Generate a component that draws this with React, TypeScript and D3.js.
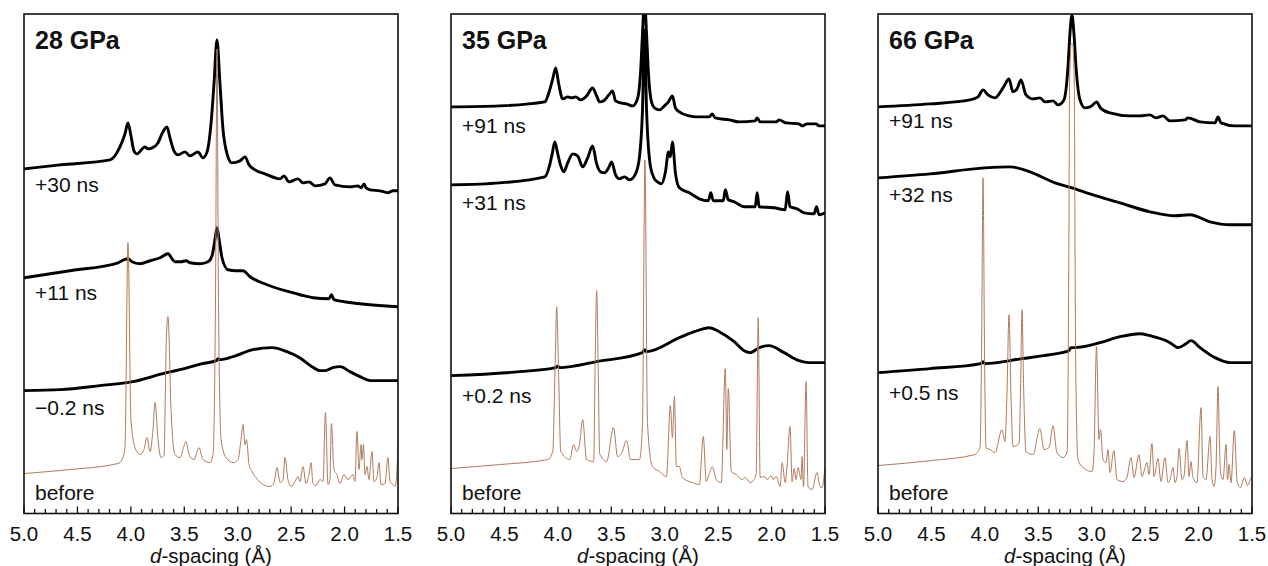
import React from "react";
import * as d3 from "d3";

type Pt = [number, number];

// ---------- tick values ----------
const MAJOR_TICKS = [5.0, 4.5, 4.0, 3.5, 3.0, 2.5, 2.0, 1.5];
const MINOR_TICKS = d3.range(0, 36).map((i) => +(5.0 - i * 0.1).toFixed(1));
const PANEL_TITLES = ["28 GPa", "35 GPa", "66 GPa"];

// ---------- 28 GPa ----------
const P1_BEFORE: Pt[] = [
  [5.0, 40], [4.57, 44], [4.12, 50], [4.083, 54], [4.055, 66], [4.027, 271], [3.999, 94], [3.961, 66],
  [3.914, 59], [3.877, 64], [3.849, 76], [3.82, 62], [3.793, 84], [3.774, 111], [3.746, 74], [3.718, 56],
  [3.69, 58], [3.667, 178], [3.652, 197], [3.624, 104], [3.587, 59], [3.54, 56], [3.512, 64], [3.484, 72],
  [3.456, 59], [3.409, 54], [3.362, 66], [3.325, 54], [3.259, 51], [3.231, 59], [3.208, 214], [3.194, 465],
  [3.18, 214], [3.156, 74], [3.11, 56], [3.044, 51], [2.997, 54], [2.969, 74], [2.95, 89], [2.932, 69],
  [2.918, 74], [2.894, 49], [2.866, 42], [2.829, 36], [2.764, 29], [2.698, 27], [2.66, 31], [2.632, 46],
  [2.604, 31], [2.576, 34], [2.558, 56], [2.53, 34], [2.501, 27], [2.464, 32], [2.436, 37], [2.417, 32],
  [2.389, 47], [2.361, 30], [2.333, 39], [2.314, 51], [2.296, 30], [2.268, 28], [2.23, 34], [2.202, 32],
  [2.179, 101], [2.155, 29], [2.137, 34], [2.123, 90], [2.099, 44], [2.071, 39], [2.043, 30], [2.005, 39],
  [1.968, 34], [1.921, 39], [1.903, 32], [1.884, 82], [1.865, 44], [1.846, 69], [1.837, 54], [1.823, 69],
  [1.809, 39], [1.79, 47], [1.772, 34], [1.743, 62], [1.725, 32], [1.697, 36], [1.678, 51], [1.659, 29],
  [1.622, 30], [1.594, 56], [1.575, 32], [1.547, 29], [1.528, 27], [1.509, 44], [1.5, 72],
];
const P1_M02: Pt[] = [
  [5.0, 123], [4.66, 124], [4.29, 128], [3.98, 132], [3.7, 140], [3.54, 144], [3.33, 150], [3.2, 153],
  [3.185, 155], [3.17, 154], [3.044, 157], [2.857, 164], [2.68, 166], [2.54, 162], [2.42, 156], [2.305, 147],
  [2.23, 143], [2.18, 143], [2.11, 146], [2.04, 147], [1.95, 142], [1.856, 137], [1.76, 133], [1.5, 133],
];
const P1_11: Pt[] = [
  [5.0, 236], [4.57, 243], [4.12, 251], [4.064, 254], [4.027, 255], [3.99, 252], [3.914, 250], [3.82, 253],
  [3.727, 256], [3.652, 260], [3.615, 255], [3.587, 252], [3.53, 252], [3.484, 253], [3.447, 251], [3.353, 250],
  [3.278, 252], [3.24, 258], [3.212, 275], [3.194, 286], [3.175, 275], [3.147, 256], [3.091, 244], [3.016, 243],
  [2.95, 243], [2.885, 237], [2.726, 229], [2.558, 223], [2.417, 219], [2.296, 216], [2.146, 215], [2.123, 219],
  [2.099, 214], [1.856, 210], [1.5, 207],
];
const P1_30: Pt[] = [
  [5.0, 345], [4.663, 349], [4.195, 354], [4.102, 367], [4.055, 380], [4.027, 391], [3.999, 378], [3.971, 363],
  [3.943, 360], [3.868, 367], [3.84, 365], [3.802, 366], [3.746, 371], [3.709, 380], [3.662, 387], [3.634, 376],
  [3.597, 363], [3.559, 359], [3.493, 362], [3.447, 358], [3.372, 362], [3.325, 356], [3.287, 362], [3.25, 390],
  [3.222, 430], [3.194, 474], [3.166, 430], [3.138, 385], [3.1, 360], [3.054, 351], [2.979, 353], [2.932, 357],
  [2.894, 349], [2.838, 344], [2.745, 340], [2.604, 335], [2.567, 338], [2.52, 332], [2.436, 335], [2.389, 331],
  [2.333, 332], [2.277, 328], [2.183, 330], [2.137, 336], [2.09, 329], [1.949, 327], [1.875, 328], [1.846, 326],
  [1.818, 330], [1.799, 326], [1.762, 324], [1.669, 323], [1.594, 321], [1.547, 323], [1.5, 323],
];

// ---------- 35 GPa ----------
const P2_BEFORE: Pt[] = [
  [5.0, 45], [4.543, 49], [4.095, 54], [4.048, 62], [4.025, 150], [4.011, 207], [3.995, 150], [3.973, 62],
  [3.889, 54], [3.852, 69], [3.824, 62], [3.796, 70], [3.768, 94], [3.731, 54], [3.665, 52], [3.651, 150],
  [3.637, 223], [3.623, 150], [3.609, 60], [3.544, 52], [3.479, 86], [3.441, 57], [3.404, 60], [3.357, 73],
  [3.32, 54], [3.236, 54], [3.208, 90], [3.185, 354], [3.161, 90], [3.115, 47], [3.049, 42], [2.984, 37],
  [2.947, 108], [2.928, 76], [2.909, 117], [2.891, 47], [2.863, 47], [2.835, 36], [2.741, 31], [2.676, 29],
  [2.639, 77], [2.611, 32], [2.583, 40], [2.555, 47], [2.517, 34], [2.471, 31], [2.433, 145], [2.419, 64],
  [2.405, 125], [2.377, 42], [2.331, 39], [2.275, 34], [2.247, 36], [2.2, 31], [2.163, 34], [2.144, 40],
  [2.125, 196], [2.107, 36], [2.069, 37], [2.041, 34], [2.004, 38], [1.985, 34], [1.957, 37], [1.92, 27],
  [1.901, 51], [1.873, 31], [1.855, 48], [1.827, 87], [1.808, 32], [1.789, 45], [1.771, 34], [1.752, 46],
  [1.724, 34], [1.715, 57], [1.701, 27], [1.677, 132], [1.659, 27], [1.621, 24], [1.575, 41], [1.547, 27],
  [1.528, 26], [1.5, 47],
];
const P2_02: Pt[] = [
  [5.0, 138], [4.356, 142], [4.02, 146], [4.001, 147.5], [3.983, 146], [3.637, 152], [3.208, 161], [3.189, 164],
  [3.17, 162], [2.863, 176], [2.723, 182], [2.583, 186], [2.49, 182], [2.35, 172], [2.256, 163], [2.2, 161],
  [2.116, 166], [2.023, 168], [1.883, 161], [1.743, 153], [1.649, 151], [1.5, 151],
];
const P2_31: Pt[] = [
  [5.0, 329], [4.543, 331], [4.123, 337], [4.076, 349], [4.053, 360], [4.029, 372], [4.001, 360], [3.973, 348],
  [3.945, 342], [3.908, 351], [3.861, 360], [3.815, 358], [3.768, 347], [3.721, 356], [3.675, 368], [3.637, 350],
  [3.6, 342], [3.563, 341], [3.525, 346], [3.497, 352], [3.46, 339], [3.423, 335], [3.376, 337], [3.329, 334],
  [3.273, 340], [3.236, 357], [3.208, 404], [3.189, 484], [3.17, 404], [3.133, 347], [3.096, 335], [3.068, 332],
  [3.031, 330], [2.993, 342], [2.965, 362], [2.947, 357], [2.928, 372], [2.9, 341], [2.863, 326], [2.77, 321],
  [2.676, 315], [2.592, 313], [2.569, 321], [2.545, 313], [2.452, 313], [2.433, 324], [2.405, 314], [2.349, 312],
  [2.256, 307], [2.153, 307], [2.135, 321], [2.116, 307], [1.976, 306], [1.873, 304], [1.85, 322], [1.827, 307],
  [1.761, 305], [1.696, 301], [1.603, 300], [1.579, 307], [1.556, 299], [1.5, 301],
];
const P2_91: Pt[] = [
  [5.0, 407], [4.543, 408], [4.123, 412], [4.076, 424], [4.048, 435], [4.02, 446], [3.992, 430], [3.955, 415],
  [3.908, 417], [3.871, 416], [3.833, 417], [3.787, 414], [3.731, 418], [3.675, 426], [3.637, 418], [3.609, 412],
  [3.572, 413], [3.516, 420], [3.488, 423], [3.46, 413], [3.413, 411], [3.357, 410], [3.301, 408], [3.255, 415],
  [3.227, 440], [3.208, 480], [3.189, 515], [3.17, 480], [3.152, 440], [3.124, 412], [3.096, 406], [3.049, 404],
  [3.003, 408], [2.965, 412], [2.928, 418], [2.9, 406], [2.863, 402], [2.77, 398], [2.704, 397], [2.583, 397],
  [2.555, 400], [2.527, 396], [2.396, 394], [2.303, 392], [2.153, 393], [2.135, 396], [2.107, 392], [1.957, 392],
  [1.93, 394], [1.864, 391], [1.743, 390], [1.715, 388], [1.668, 390], [1.584, 390], [1.556, 388], [1.5, 388],
];

// ---------- 66 GPa ----------
const P3_BEFORE: Pt[] = [
  [5.0, 48], [4.5, 53], [4.092, 59], [4.045, 66], [4.031, 160], [4.017, 336], [4.003, 160], [3.989, 66],
  [3.952, 64], [3.905, 61], [3.84, 84], [3.812, 72], [3.793, 120], [3.774, 199], [3.756, 120], [3.737, 67],
  [3.68, 70], [3.665, 130], [3.652, 204], [3.638, 130], [3.615, 62], [3.55, 59], [3.484, 85], [3.447, 64],
  [3.4, 66], [3.362, 88], [3.326, 61], [3.269, 56], [3.231, 61], [3.22, 150], [3.213, 290], [3.207, 430],
  [3.192, 470], [3.178, 470], [3.163, 430], [3.157, 290], [3.15, 150], [3.128, 54], [3.082, 46], [2.997, 42],
  [2.979, 60], [2.955, 167], [2.932, 74], [2.918, 84], [2.894, 54],
  [2.866, 51], [2.848, 64], [2.829, 41], [2.792, 63], [2.764, 34], [2.707, 32], [2.671, 36], [2.632, 56],
  [2.604, 36], [2.558, 59], [2.53, 37], [2.501, 46], [2.483, 51], [2.464, 39], [2.436, 70], [2.417, 37],
  [2.38, 55], [2.352, 32], [2.314, 56], [2.286, 31], [2.267, 34], [2.239, 46], [2.221, 31], [2.202, 37],
  [2.183, 65], [2.155, 34], [2.137, 37], [2.108, 73], [2.089, 37], [2.071, 52], [2.052, 36], [2.015, 31],
  [1.977, 106], [1.958, 37], [1.93, 34], [1.893, 77], [1.874, 34], [1.855, 27], [1.837, 46], [1.818, 127],
  [1.804, 67], [1.79, 37], [1.771, 34], [1.743, 69], [1.729, 34], [1.715, 49], [1.696, 31], [1.666, 83],
  [1.638, 31], [1.608, 26], [1.571, 36], [1.543, 28], [1.515, 34], [1.5, 37],
];
const P3_05: Pt[] = [
  [5.0, 141], [4.513, 145], [4.036, 150], [4.017, 152], [3.999, 150], [3.652, 155], [3.39, 159], [3.213, 163],
  [3.194, 166], [3.166, 166], [2.922, 171], [2.735, 177], [2.548, 180], [2.455, 178], [2.267, 171], [2.192, 166],
  [2.117, 170], [2.071, 173], [1.986, 166], [1.846, 156], [1.706, 151], [1.5, 151],
];
const P3_32: Pt[] = [
  [5.0, 336], [4.513, 340], [3.999, 346], [3.765, 347], [3.578, 342], [3.344, 331], [3.185, 326], [3.016, 320],
  [2.735, 311], [2.455, 302], [2.221, 298], [2.08, 299], [1.893, 292], [1.706, 289], [1.5, 289],
];
const P3_91: Pt[] = [
  [5.0, 407], [4.513, 410], [4.139, 414], [4.064, 417], [4.017, 424], [3.971, 419], [3.905, 416], [3.83, 426],
  [3.774, 435], [3.737, 422], [3.699, 425], [3.662, 434], [3.615, 419], [3.55, 415], [3.484, 416], [3.437, 412],
  [3.362, 413], [3.316, 409], [3.26, 414], [3.222, 447], [3.204, 480], [3.185, 499], [3.166, 480], [3.147, 447],
  [3.11, 414], [3.063, 406], [3.016, 407], [2.979, 410], [2.955, 412], [2.918, 406], [2.829, 401], [2.642, 398],
  [2.548, 398], [2.455, 399], [2.399, 396], [2.333, 398], [2.267, 393], [2.127, 394], [2.099, 396], [1.986, 392],
  [1.846, 391], [1.818, 397], [1.79, 391], [1.66, 388], [1.5, 388],
];

// ---------- panel description ----------
const P1_LABELS = ["+30 ns", "+11 ns", "\u22120.2 ns", "before"];
const P2_LABELS = ["+91 ns", "+31 ns", "+0.2 ns", "before"];
const P3_LABELS = ["+91 ns", "+32 ns", "+0.5 ns", "before"];

// layout (pixels)
const PANEL_LEFT = [24, 451, 878];
const PANEL_WIDTH = 374;
const TOP = 14;
const BOTTOM = 513.5;
const LABEL_BASELINES = [
  [192, 300, 415, 500],
  [133, 210, 403, 500],
  [128, 202, 400, 500],
];

const BROWN = "#b27a5c";
const FONT = "'Liberation Sans', Arial, Helvetica, sans-serif";

const panels = [
  { title: PANEL_TITLES[0], before: P1_BEFORE, traces: [P1_M02, P1_11, P1_30], labels: P1_LABELS },
  { title: PANEL_TITLES[1], before: P2_BEFORE, traces: [P2_02, P2_31, P2_91], labels: P2_LABELS },
  { title: PANEL_TITLES[2], before: P3_BEFORE, traces: [P3_05, P3_32, P3_91], labels: P3_LABELS },
];

function Panel({ idx }: { idx: number }) {
  const p = panels[idx];
  const left = PANEL_LEFT[idx];
  const right = left + PANEL_WIDTH;
  const x = d3.scaleLinear().domain([5.0, 1.5]).range([left, right]);
  const y = d3.scaleLinear().domain([0, 500]).range([BOTTOM, TOP]);
  const line = d3
    .line<Pt>()
    .x((d) => x(d[0]))
    .y((d) => y(d[1]))
    .curve(d3.curveMonotoneX);
  const clipId = `clip-${idx}`;
  const cx = (left + right) / 2;
  const base = LABEL_BASELINES[idx];
  return (
    <g>
      <defs>
        <clipPath id={clipId}>
          <rect x={left} y={TOP} width={PANEL_WIDTH} height={BOTTOM - TOP} />
        </clipPath>
      </defs>
      <g clipPath={`url(#${clipId})`}>
        {p.traces.map((t, i) => (
          <path
            key={i}
            d={line(t) || ""}
            fill="none"
            stroke="#000"
            strokeWidth={2.9}
            strokeLinejoin="round"
          />
        ))}
        <path d={line(p.before) || ""} fill="none" stroke={BROWN} strokeWidth={1} />
      </g>
      <rect
        x={left}
        y={TOP}
        width={PANEL_WIDTH}
        height={BOTTOM - TOP}
        fill="none"
        stroke="#111"
        strokeWidth={1.6}
      />
      {MINOR_TICKS.map((t) => {
        const major = MAJOR_TICKS.some((m) => Math.abs(m - t) < 1e-6);
        return (
          <line
            key={t}
            x1={x(t)}
            x2={x(t)}
            y1={BOTTOM}
            y2={BOTTOM - (major ? 7 : 4.5)}
            stroke="#111"
            strokeWidth={1.3}
          />
        );
      })}
      {MAJOR_TICKS.map((t) => (
        <text
          key={t}
          x={x(t)}
          y={541}
          textAnchor="middle"
          fontFamily={FONT}
          fontSize={20.5}
          fill="#111"
        >
          {t.toFixed(1)}
        </text>
      ))}
      <text x={cx} y={563} textAnchor="middle" fontFamily={FONT} fontSize={20.5} fill="#111">
        <tspan fontStyle="italic">d</tspan>-spacing (Å)
      </text>
      <text x={left + 11} y={49} fontFamily={FONT} fontSize={25} fontWeight="bold" fill="#111">
        {p.title}
      </text>
      {p.labels.map((lab, i) => (
        <text key={i} x={left + 11} y={base[i]} fontFamily={FONT} fontSize={21} fill="#111">
          {lab}
        </text>
      ))}
    </g>
  );
}

export default function App() {
  return (
    <svg
      width={1268}
      height={566}
      style={{ position: "absolute", left: 0, top: 0, background: "#fff" }}
    >
      <rect x={0} y={0} width={1268} height={566} fill="#fff" />
      {panels.map((_, i) => (
        <Panel key={i} idx={i} />
      ))}
    </svg>
  );
}
